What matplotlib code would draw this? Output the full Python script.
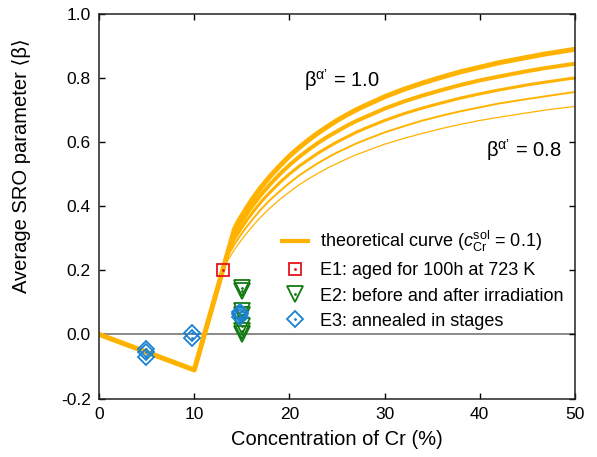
import matplotlib
matplotlib.use("Agg")
import matplotlib.pyplot as plt
from matplotlib.lines import Line2D

plt.rcParams['font.family'] = ['Liberation Sans', 'DejaVu Sans']
plt.rcParams['mathtext.fontset'] = 'custom'
plt.rcParams['mathtext.rm'] = 'Liberation Sans'
plt.rcParams['mathtext.it'] = 'Liberation Sans:italic'

# ---- data ----
x_curve = [0, 10, 11, 12, 13, 13.5, 14, 14.2, 14.5, 15, 15.5, 16, 16.5, 17, 17.5, 18,
           19, 20, 21, 22, 23, 24, 25, 26, 27, 28, 30, 32, 34, 36, 38, 40, 42, 45, 47, 50]
beta_labels = [1.0, 0.95, 0.9, 0.85, 0.8]
curve_100 = [0, -0.111, -0.007, 0.097, 0.201, 0.253, 0.305, 0.326, 0.345, 0.370, 0.394, 0.417,
             0.438, 0.458, 0.476, 0.494, 0.526, 0.556, 0.582, 0.606, 0.628, 0.648, 0.667, 0.684,
             0.700, 0.714, 0.741, 0.764, 0.784, 0.802, 0.819, 0.833, 0.847, 0.864, 0.875, 0.889]
curve_095 = [0, -0.111, -0.007, 0.097, 0.201, 0.253, 0.301, 0.312, 0.328, 0.352, 0.375, 0.396,
             0.416, 0.435, 0.452, 0.469, 0.500, 0.528, 0.553, 0.576, 0.597, 0.616, 0.633, 0.650,
             0.665, 0.678, 0.704, 0.726, 0.745, 0.762, 0.778, 0.792, 0.804, 0.821, 0.831, 0.844]
curve_090 = [0, -0.111, -0.007, 0.097, 0.201, 0.253, 0.285, 0.296, 0.310, 0.333, 0.355, 0.375,
             0.394, 0.412, 0.429, 0.444, 0.474, 0.500, 0.524, 0.545, 0.565, 0.583, 0.600, 0.615,
             0.630, 0.643, 0.667, 0.688, 0.706, 0.722, 0.737, 0.750, 0.762, 0.778, 0.787, 0.800]
curve_085 = [0, -0.111, -0.007, 0.097, 0.201, 0.245, 0.269, 0.280, 0.293, 0.315, 0.335, 0.354,
             0.372, 0.389, 0.405, 0.420, 0.447, 0.472, 0.495, 0.515, 0.534, 0.551, 0.567, 0.581,
             0.595, 0.607, 0.630, 0.649, 0.667, 0.682, 0.696, 0.708, 0.720, 0.734, 0.743, 0.756]
curve_080 = [0, -0.111, -0.007, 0.097, 0.201, 0.230, 0.254, 0.263, 0.276, 0.296, 0.315, 0.333,
             0.350, 0.366, 0.381, 0.395, 0.421, 0.444, 0.466, 0.485, 0.502, 0.519, 0.533, 0.547,
             0.560, 0.571, 0.593, 0.611, 0.627, 0.642, 0.655, 0.667, 0.677, 0.691, 0.700, 0.711]
curve_widths = [3.6, 2.9, 2.2, 1.4, 0.9]

e1_x = [13.0]
e1_y = [0.20]
e2_x = [15.0, 15.0, 15.0, 15.0, 15.0, 15.0, 15.0]
e2_y = [0.145, 0.135, 0.072, 0.060, 0.025, 0.012, 0.0]
e3_x = [4.9, 4.9, 4.9, 9.8, 9.8, 14.8, 14.8, 14.8]
e3_y = [-0.045, -0.055, -0.070, 0.003, -0.010, 0.070, 0.063, 0.055]

xticks = [0, 10, 20, 30, 40, 50]
yticks = [-0.2, 0.0, 0.2, 0.4, 0.6, 0.8, 1.0]

orange = '#ffb300'
red = '#e3141c'
green = '#117a11'
blue = '#1a82d2'

fig = plt.figure(figsize=(5.97, 4.57), dpi=100)
ax = fig.add_axes([0.166, 0.128, 0.797, 0.842])

ax.axhline(0, color='#777777', lw=1.2, zorder=1)

curves = [curve_100, curve_095, curve_090, curve_085, curve_080]
for ys, lw in zip(curves, curve_widths):
    ax.plot(x_curve, ys, color=orange, lw=lw, solid_joinstyle='round', zorder=2)

ms_s, ms_v, ms_d = 9, 11, 8.5
ax.plot(e1_x, e1_y, ls='none', marker='s', ms=ms_s, mfc='none', mec=red, mew=1.3, zorder=4)
ax.plot(e1_x, e1_y, ls='none', marker='.', ms=2, color=red, zorder=4)
ax.plot(e2_x, e2_y, ls='none', marker='v', ms=ms_v, mfc='none', mec=green, mew=1.3, zorder=3)
ax.plot(e2_x, e2_y, ls='none', marker='.', ms=2, color=green, zorder=3)
ax.plot(e3_x, e3_y, ls='none', marker='D', ms=ms_d, mfc='none', mec=blue, mew=1.3, zorder=5)
ax.plot(e3_x, e3_y, ls='none', marker='.', ms=2, color=blue, zorder=5)

ax.set_xlim(0, 50)
ax.set_ylim(-0.2, 1.0)
ax.set_xticks(xticks)
ax.set_yticks(yticks)
ax.set_yticklabels([f"{v:.1f}" for v in yticks])
ax.tick_params(direction='in', length=4, width=1, top=True, right=True, labelsize=12.5, pad=6)
for s in ax.spines.values():
    s.set_linewidth(1.1)
    s.set_color('#222222')

ax.set_xlabel('Concentration of Cr (%)', fontsize=14.5)
ax.xaxis.set_label_coords(0.5, -0.082)
ax.set_ylabel('Average SRO parameter \u27e8\u03b2\u27e9', fontsize=14.5)
ax.yaxis.set_label_coords(-0.143, 0.606)

ax.text(25.5, 0.793, "\u03b2$^{\\mathrm{\u03b1\u2019}}$ = 1.0", fontsize=14.5, ha='center', va='center')
ax.text(44.6, 0.575, "\u03b2$^{\\mathrm{\u03b1\u2019}}$ = 0.8", fontsize=14.5, ha='center', va='center')

handles = [
    Line2D([], [], color=orange, lw=3),
    (Line2D([], [], ls='none', marker='s', ms=ms_s, mfc='none', mec=red, mew=1.3),
     Line2D([], [], ls='none', marker='.', ms=2, color=red)),
    (Line2D([], [], ls='none', marker='v', ms=ms_v, mfc='none', mec=green, mew=1.3),
     Line2D([], [], ls='none', marker='.', ms=2, color=green)),
    (Line2D([], [], ls='none', marker='D', ms=ms_d, mfc='none', mec=blue, mew=1.3),
     Line2D([], [], ls='none', marker='.', ms=2, color=blue)),
]
labels = [
    r'theoretical curve ($c^{\rm sol}_{\rm Cr}$ = 0.1)',
    'E1: aged for 100h at 723 K',
    'E2: before and after irradiation',
    'E3: annealed in stages',
]
ax.legend(handles, labels, loc='upper left', bbox_to_anchor=(0.384, 0.44), frameon=False,
          fontsize=13, handlelength=1.45, handletextpad=0.65, labelspacing=0.45,
          borderpad=0, borderaxespad=0)

fig.savefig('out.png', dpi=100)
